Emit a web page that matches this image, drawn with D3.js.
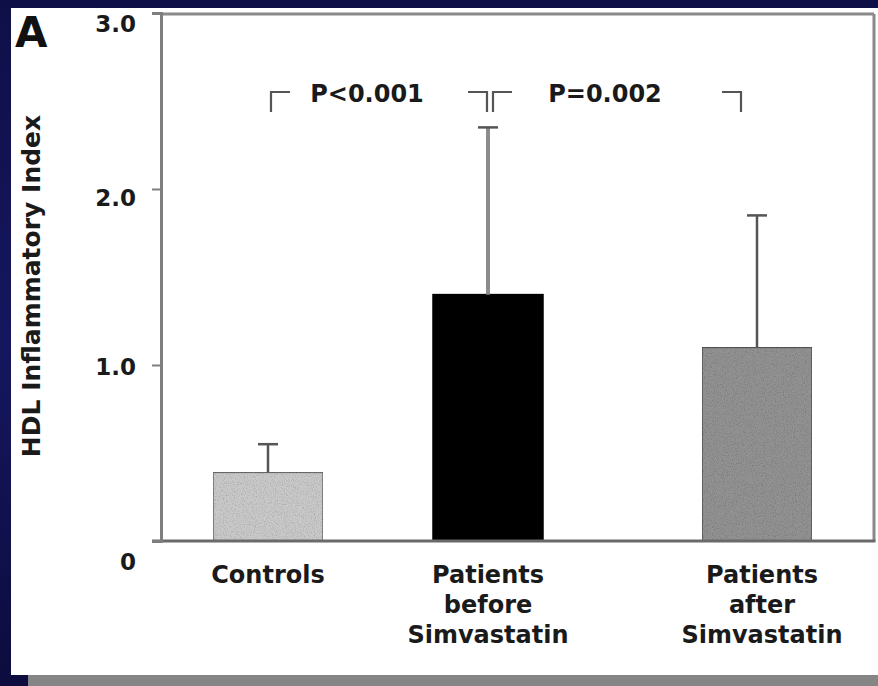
<!DOCTYPE html>
<html>
<head>
<meta charset="utf-8">
<script src="https://cdn.jsdelivr.net/npm/d3@7/dist/d3.min.js"></script>
<style>
  html, body { margin: 0; padding: 0; background: #10104b; }
  svg { display: block; }
</style>
</head>
<body>
<svg id="chart" width="878" height="686"></svg>
<script>
// Groups and HDL inflammatory index (mean, with SD shown as an upper error bar)
const categories = ["Controls", "Patients before Simvastatin", "Patients after Simvastatin"];
const categoryLines = [["Controls"], ["Patients", "before", "Simvastatin"], ["Patients", "after", "Simvastatin"]];
const meanValues = [0.39, 1.40, 1.10];
const sdValues = [0.16, 0.95, 0.75];
const yTickValues = [0, 1, 2, 3];
const yTickLabels = ["0", "1.0", "2.0", "3.0"];
const comparisonFrom = [0, 1];
const comparisonTo = [1, 2];
const comparisonLabels = ["P<0.001", "P=0.002"];

const W = 878, H = 686;
const svg = d3.select("#chart");
const font = "'DejaVu Sans', Verdana, sans-serif";

// Background: navy slide with a white panel and a grey strip at the bottom
const defs = svg.append("defs");
const bg = defs.append("linearGradient").attr("id", "navy").attr("x1", 0).attr("y1", 0).attr("x2", 0).attr("y2", 1);
bg.append("stop").attr("offset", "0%").attr("stop-color", "#0f0f48");
bg.append("stop").attr("offset", "50%").attr("stop-color", "#16165f");
bg.append("stop").attr("offset", "100%").attr("stop-color", "#0c0c3e");
svg.append("rect").attr("width", W).attr("height", H).attr("fill", "url(#navy)");
svg.append("rect").attr("x", 11).attr("y", 8).attr("width", W - 11).attr("height", 667).attr("fill", "#ffffff");
svg.append("rect").attr("x", 28).attr("y", 675).attr("width", W - 28).attr("height", H - 675).attr("fill", "#858585");

// Grain for the shaded bars
const grain = defs.append("filter").attr("id", "grain").attr("x", 0).attr("y", 0).attr("width", "100%").attr("height", "100%");
grain.append("feTurbulence").attr("type", "fractalNoise").attr("baseFrequency", 0.9).attr("numOctaves", 2).attr("seed", 4).attr("result", "noise");
grain.append("feColorMatrix").attr("in", "noise").attr("type", "matrix")
  .attr("values", "0 0 0 0 0  0 0 0 0 0  0 0 0 0 0  0.8 0 0 0 -0.36").attr("result", "dots");
grain.append("feComposite").attr("in", "dots").attr("in2", "SourceGraphic").attr("operator", "in").attr("result", "dots2");
const gm = grain.append("feMerge");
gm.append("feMergeNode").attr("in", "SourceGraphic");
gm.append("feMergeNode").attr("in", "dots2");

// Plot frame
const plot = { left: 161, right: 874, top: 13, bottom: 541 };

const y = d3.scaleLinear().domain([0, 3]).range([plot.bottom, plot.top]);
const x = d3.scaleOrdinal().domain(categories).range([268, 488, 757]);
const barWidth = 110;

const barFill = ["#c9c9c9", "#000000", "#929292"];
const barStroke = ["#6a6a6a", "#000000", "#555555"];
const errStroke = ["#555555", "#8c8c8c", "#555555"];

// Bars
const rows = categories.map((c, i) => ({ c, i, mean: meanValues[i], sd: sdValues[i] }));
svg.append("g").selectAll("rect").data(rows).join("rect")
  .attr("x", d => x(d.c) - barWidth / 2)
  .attr("y", d => y(d.mean))
  .attr("width", barWidth)
  .attr("height", d => y(0) - y(d.mean))
  .attr("fill", d => barFill[d.i])
  .attr("stroke", d => barStroke[d.i])
  .attr("stroke-width", 1.5)
  .attr("filter", d => d.i === 1 ? null : "url(#grain)");

// Upper error bars
const err = svg.append("g").selectAll("g").data(rows).join("g");
err.append("line")
  .attr("x1", d => x(d.c)).attr("x2", d => x(d.c))
  .attr("y1", d => y(d.mean)).attr("y2", d => y(d.mean + d.sd))
  .attr("stroke", d => errStroke[d.i]).attr("stroke-width", d => d.i === 1 ? 4 : 2.5);
err.append("line")
  .attr("x1", d => x(d.c) - 10).attr("x2", d => x(d.c) + 10)
  .attr("y1", d => y(d.mean + d.sd)).attr("y2", d => y(d.mean + d.sd))
  .attr("stroke", "#555555").attr("stroke-width", 2.5);

// Frame: top and right edges, x baseline
const frame = svg.append("g").attr("fill", "none");
frame.append("line").attr("x1", plot.left).attr("x2", plot.right).attr("y1", plot.top + 1).attr("y2", plot.top + 1)
  .attr("stroke", "#8a8a8a").attr("stroke-width", 3);
frame.append("line").attr("x1", plot.right).attr("x2", plot.right).attr("y1", plot.top + 1).attr("y2", plot.bottom)
  .attr("stroke", "#8a8a8a").attr("stroke-width", 3);
frame.append("line").attr("x1", 152).attr("x2", plot.right + 1.5).attr("y1", plot.bottom).attr("y2", plot.bottom)
  .attr("stroke", "#6a6a6a").attr("stroke-width", 3);

// Y axis
const yAxis = svg.append("g").attr("transform", `translate(${plot.left},0)`)
  .call(d3.axisLeft(y).tickValues(yTickValues).tickSize(9).tickPadding(16)
    .tickFormat((d, i) => yTickLabels[i]));
yAxis.select(".domain").attr("stroke", "#7e7e7e").attr("stroke-width", 3);
yAxis.selectAll(".tick line").attr("stroke", "#7e7e7e").attr("stroke-width", 2);
const labelShift = d => d === 0 ? 21 : d === 1 ? 2 : d === 2 ? 9 : 11;
yAxis.selectAll(".tick text")
  .attr("font-family", font).attr("font-weight", "bold").attr("font-size", 23)
  .attr("fill", "#1a1a1a")
  .attr("transform", d => `translate(0,${labelShift(d)})`);

// Y axis title
svg.append("text")
  .attr("transform", `translate(40,286) rotate(-90)`)
  .attr("text-anchor", "middle")
  .attr("font-family", font).attr("font-size", 25).attr("font-weight", "bold")
  .attr("fill", "#1a1a1a")
  .text("HDL Inflammatory Index");

// Panel letter
svg.append("text").attr("x", 15).attr("y", 47)
  .attr("font-family", font).attr("font-weight", "bold").attr("font-size", 42)
  .attr("fill", "#111").text("A");

// Category labels
const xl = svg.append("g").selectAll("text").data(rows).join("text")
  .attr("text-anchor", "middle")
  .attr("font-family", font).attr("font-weight", "bold").attr("font-size", 24)
  .attr("fill", "#1a1a1a");
xl.selectAll("tspan").data(d => categoryLines[d.i].map(t => ({ t, cx: x(d.c) + (d.i === 2 ? 5 : 0) })))
  .join("tspan")
  .attr("x", t => t.cx)
  .attr("y", (t, j) => 583 + j * 30)
  .text(t => t.t);

// Significance brackets
const bracketInset = [[3, 1], [5, 16]];
const bTop = 92, bLeg = 20, arm = 19;
comparisonLabels.forEach((lab, k) => {
  const x0 = x(categories[comparisonFrom[k]]) + bracketInset[k][0];
  const x1 = x(categories[comparisonTo[k]]) - bracketInset[k][1];
  const g = svg.append("g").attr("stroke", "#555").attr("stroke-width", 2.2).attr("fill", "none");
  g.append("path").attr("d", `M${x0},${bTop + bLeg}V${bTop}H${x0 + arm}`);
  g.append("path").attr("d", `M${x1 - arm},${bTop}H${x1}V${bTop + bLeg}`);
  svg.append("text").attr("x", (x0 + x1) / 2 - 12).attr("y", 102)
    .attr("text-anchor", "middle")
    .attr("font-family", font).attr("font-weight", "bold").attr("font-size", 24)
    .attr("fill", "#1a1a1a").text(lab);
});
</script>
</body>
</html>
